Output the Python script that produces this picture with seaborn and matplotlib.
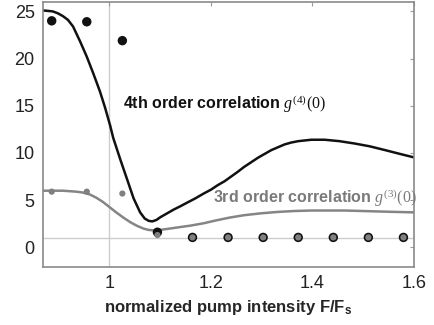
import numpy as np
import pandas as pd
import matplotlib
matplotlib.use("Agg")
import matplotlib.pyplot as plt
import seaborn as sns

# measured points (pump intensity, correlation)
x_meas = [0.887, 0.956, 1.026, 1.095, 1.164, 1.234, 1.303, 1.372, 1.441, 1.510, 1.579]
g4_meas = [24.0, 23.9, 21.9, 1.6, 1.05, 1.05, 1.05, 1.05, 1.05, 1.05, 1.05]
g3_meas = [5.9, 5.9, 5.7, 1.3, 1.05, 1.05, 1.05, 1.05, 1.05, 1.05, 1.05]

# theory curves
x_g4 = [0.870, 0.880, 0.889, 0.899, 0.909, 0.919, 0.929, 0.943, 0.956, 0.969,
        0.982, 0.992, 1.002, 1.008, 1.022, 1.036, 1.048, 1.061, 1.070, 1.078,
        1.085, 1.093, 1.101, 1.114, 1.127, 1.140, 1.154, 1.170, 1.186, 1.200,
        1.214, 1.227, 1.240, 1.253, 1.265, 1.279, 1.293, 1.306, 1.319, 1.332,
        1.345, 1.358, 1.372, 1.398, 1.424, 1.453, 1.483, 1.513, 1.543, 1.572, 1.602]
y_g4 = [25.1, 25.05, 25.0, 24.8, 24.5, 24.1, 23.4, 21.8, 20.2, 18.4,
        16.5, 14.8, 12.9, 11.6, 9.3, 7.1, 5.2, 3.7, 3.05, 2.8,
        2.75, 2.9, 3.2, 3.6, 4.0, 4.35, 4.75, 5.2, 5.7, 6.1,
        6.6, 7.0, 7.5, 8.0, 8.5, 9.0, 9.5, 9.9, 10.3, 10.6,
        10.9, 11.1, 11.25, 11.4, 11.4, 11.25, 11.0, 10.7, 10.3, 9.9, 9.5]

x_g3 = [0.870, 0.890, 0.909, 0.922, 0.935, 0.949, 0.962, 0.975, 0.988, 1.001,
        1.014, 1.028, 1.042, 1.054, 1.067, 1.077, 1.087, 1.101, 1.121, 1.140,
        1.160, 1.186, 1.210, 1.237, 1.265, 1.298, 1.331, 1.365, 1.398, 1.431,
        1.463, 1.497, 1.530, 1.565, 1.602]
y_g3 = [6.0, 6.0, 6.0, 5.95, 5.9, 5.8, 5.6, 5.25, 4.8, 4.25,
        3.7, 3.15, 2.65, 2.3, 2.0, 1.85, 1.8, 1.85, 2.0, 2.15,
        2.3, 2.55, 2.85, 3.15, 3.4, 3.6, 3.75, 3.85, 3.9, 3.9,
        3.9, 3.85, 3.8, 3.75, 3.7]

sns.set_style("white")
plt.rcParams['font.family'] = ['Liberation Sans', 'DejaVu Sans']
plt.rcParams['mathtext.fontset'] = 'custom'
plt.rcParams['mathtext.rm'] = 'Liberation Serif'
plt.rcParams['mathtext.it'] = 'Liberation Serif:italic'
plt.rcParams['mathtext.sf'] = 'Liberation Sans:bold'

fig = plt.figure(figsize=(4.35, 3.25), dpi=100)
ax = fig.add_axes([0.099, 0.178, 0.853, 0.816])

# reference lines
ax.axvline(1.0, color='#cccccc', lw=1, zorder=0)
ax.axhline(1.0, color='#cccccc', lw=1, zorder=0)

sns.lineplot(x=x_g3, y=y_g3, color='#858585', lw=1.8, ax=ax, sort=False)
sns.lineplot(x=x_g4, y=y_g4, color='#111111', lw=1.8, ax=ax, sort=False)

sns.scatterplot(x=x_meas, y=g4_meas, color='#111111', s=46, edgecolor='none', ax=ax, zorder=3)
sns.scatterplot(x=x_meas, y=g3_meas, color='#808080', s=20, edgecolor='none', ax=ax, zorder=4)

ax.text(1.028, 14.7, "4th order correlation $g^{(4)}(0)$", fontsize=11.5,
        fontweight='bold', color='#111111', va='baseline', ha='left')
ax.text(1.204, 4.65, "3rd order correlation $g^{(3)}(0)$", fontsize=11.5,
        fontweight='bold', color='#7a7a7a', va='baseline', ha='left')

ax.set_xlim(0.87, 1.6)
ax.set_ylim(-2.1, 26)
ax.set_xticks([1.0, 1.2, 1.4, 1.6])
ax.set_xticklabels(['1', '1.2', '1.4', '1.6'])
ax.set_yticks([0, 5, 10, 15, 20, 25])

for sp in ax.spines.values():
    sp.set_color('#8a8a8a')
    sp.set_linewidth(1.2)
ax.tick_params(direction='in', length=3, width=0.8, color='#9a9a9a',
               top=True, right=True, labelsize=13, labelcolor='#222222', pad=6)

ax.set_xlabel("normalized pump intensity F/F$_\\mathsf{s}$", fontsize=12,
              fontweight='bold', labelpad=4)
ax.set_ylabel("")

fig.savefig("out.png", dpi=100)
